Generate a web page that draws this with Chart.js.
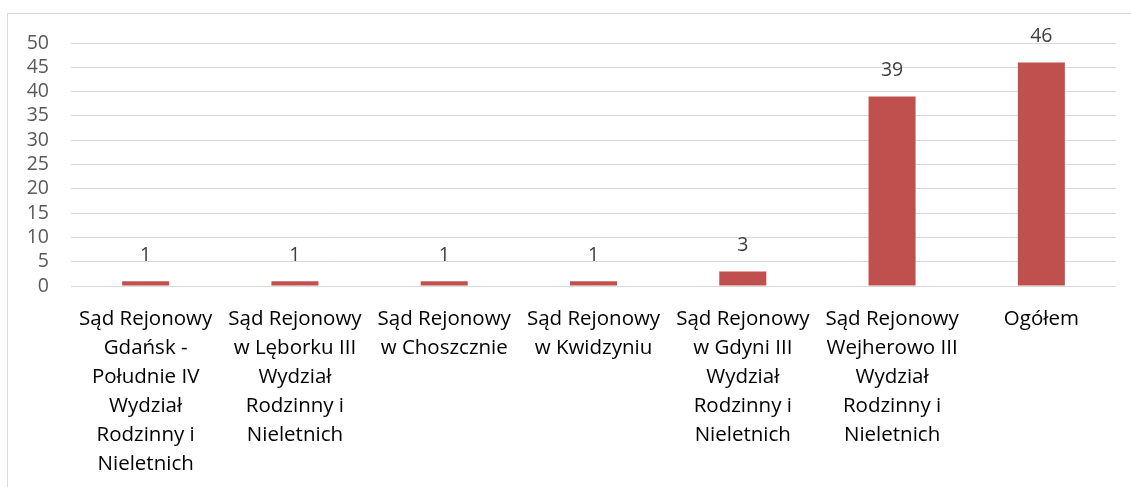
<!DOCTYPE html>
<html>
<head>
<meta charset="utf-8">
<script src="https://cdn.jsdelivr.net/npm/chart.js@4"></script>
<style>
    body { margin: 0; background: #fff; overflow: hidden; }
    #frame { position: absolute; left: 7px; top: 13px; width: 1140px; height: 500px; border: 1px solid #d9d9d9; }
    #wrap { position: absolute; left: 0; top: 0; width: 1131px; height: 487px; }
</style>
</head>
<body>
<div id="frame"></div>
<div id="wrap"><canvas id="courtChart"></canvas></div>
<script>
const courts = [
    ['Sąd Rejonowy', 'Gdańsk -', 'Południe IV', 'Wydział', 'Rodzinny i', 'Nieletnich'],
    ['Sąd Rejonowy', 'w Lęborku III', 'Wydział', 'Rodzinny i', 'Nieletnich'],
    ['Sąd Rejonowy', 'w Choszcznie'],
    ['Sąd Rejonowy', 'w Kwidzyniu'],
    ['Sąd Rejonowy', 'w Gdyni III', 'Wydział', 'Rodzinny i', 'Nieletnich'],
    ['Sąd Rejonowy', 'Wejherowo III', 'Wydział', 'Rodzinny i', 'Nieletnich'],
    'Ogółem'
];
const counts = [1, 1, 1, 1, 3, 39, 46];   // number of cases per court
const yTicks = [0, 5, 10, 15, 20, 25, 30, 35, 40, 45, 50];

const fontName = '"Open Sans", "Noto Sans", sans-serif';

// draws the value above each bar
const valueLabels = {
    id: 'valueLabels',
    afterDatasetsDraw(chart) {
        const ctx = chart.ctx;
        const meta = chart.getDatasetMeta(0);
        ctx.save();
        ctx.font = '19.5px ' + fontName;
        ctx.fillStyle = '#404040';
        ctx.textAlign = 'center';
        ctx.textBaseline = 'middle';
        meta.data.forEach((bar, i) => {
            ctx.fillText(String(counts[i]), bar.x, bar.y - 26);
        });
        ctx.restore();
    }
};

const chart = new Chart(document.getElementById('courtChart'), {
    type: 'bar',
    data: {
        labels: courts,
        datasets: [{
            data: counts,
            backgroundColor: '#c0504d',
            borderWidth: 0,
            barPercentage: 0.63,
            categoryPercentage: 0.5
        }]
    },
    options: {
        responsive: true,
        maintainAspectRatio: false,
        animation: false,
        layout: { padding: { left: 0, right: 15, top: 43, bottom: 0 } },
        plugins: {
            legend: { display: false },
            tooltip: { enabled: false }
        },
        scales: {
            x: {
                grid: { display: false },
                border: { display: false },
                ticks: {
                    color: '#000',
                    font: { family: fontName, size: 20.5, lineHeight: '29px' },
                    maxRotation: 0,
                    autoSkip: false,
                    padding: 11
                },
                afterFit(scale) { scale.height = 201; }
            },
            y: {
                min: 0,
                max: 50,
                afterBuildTicks(scale) { scale.ticks = yTicks.map(v => ({ value: v })); },
                grid: { color: '#d9d9d9', drawTicks: false },
                border: { display: false },
                ticks: {
                    color: '#595959',
                    font: { family: fontName, size: 19.5, lineHeight: 1 },
                    padding: 22
                },
                afterFit(scale) { scale.width = 71; }
            }
        }
    },
    plugins: [valueLabels]
});
</script>
</body>
</html>
